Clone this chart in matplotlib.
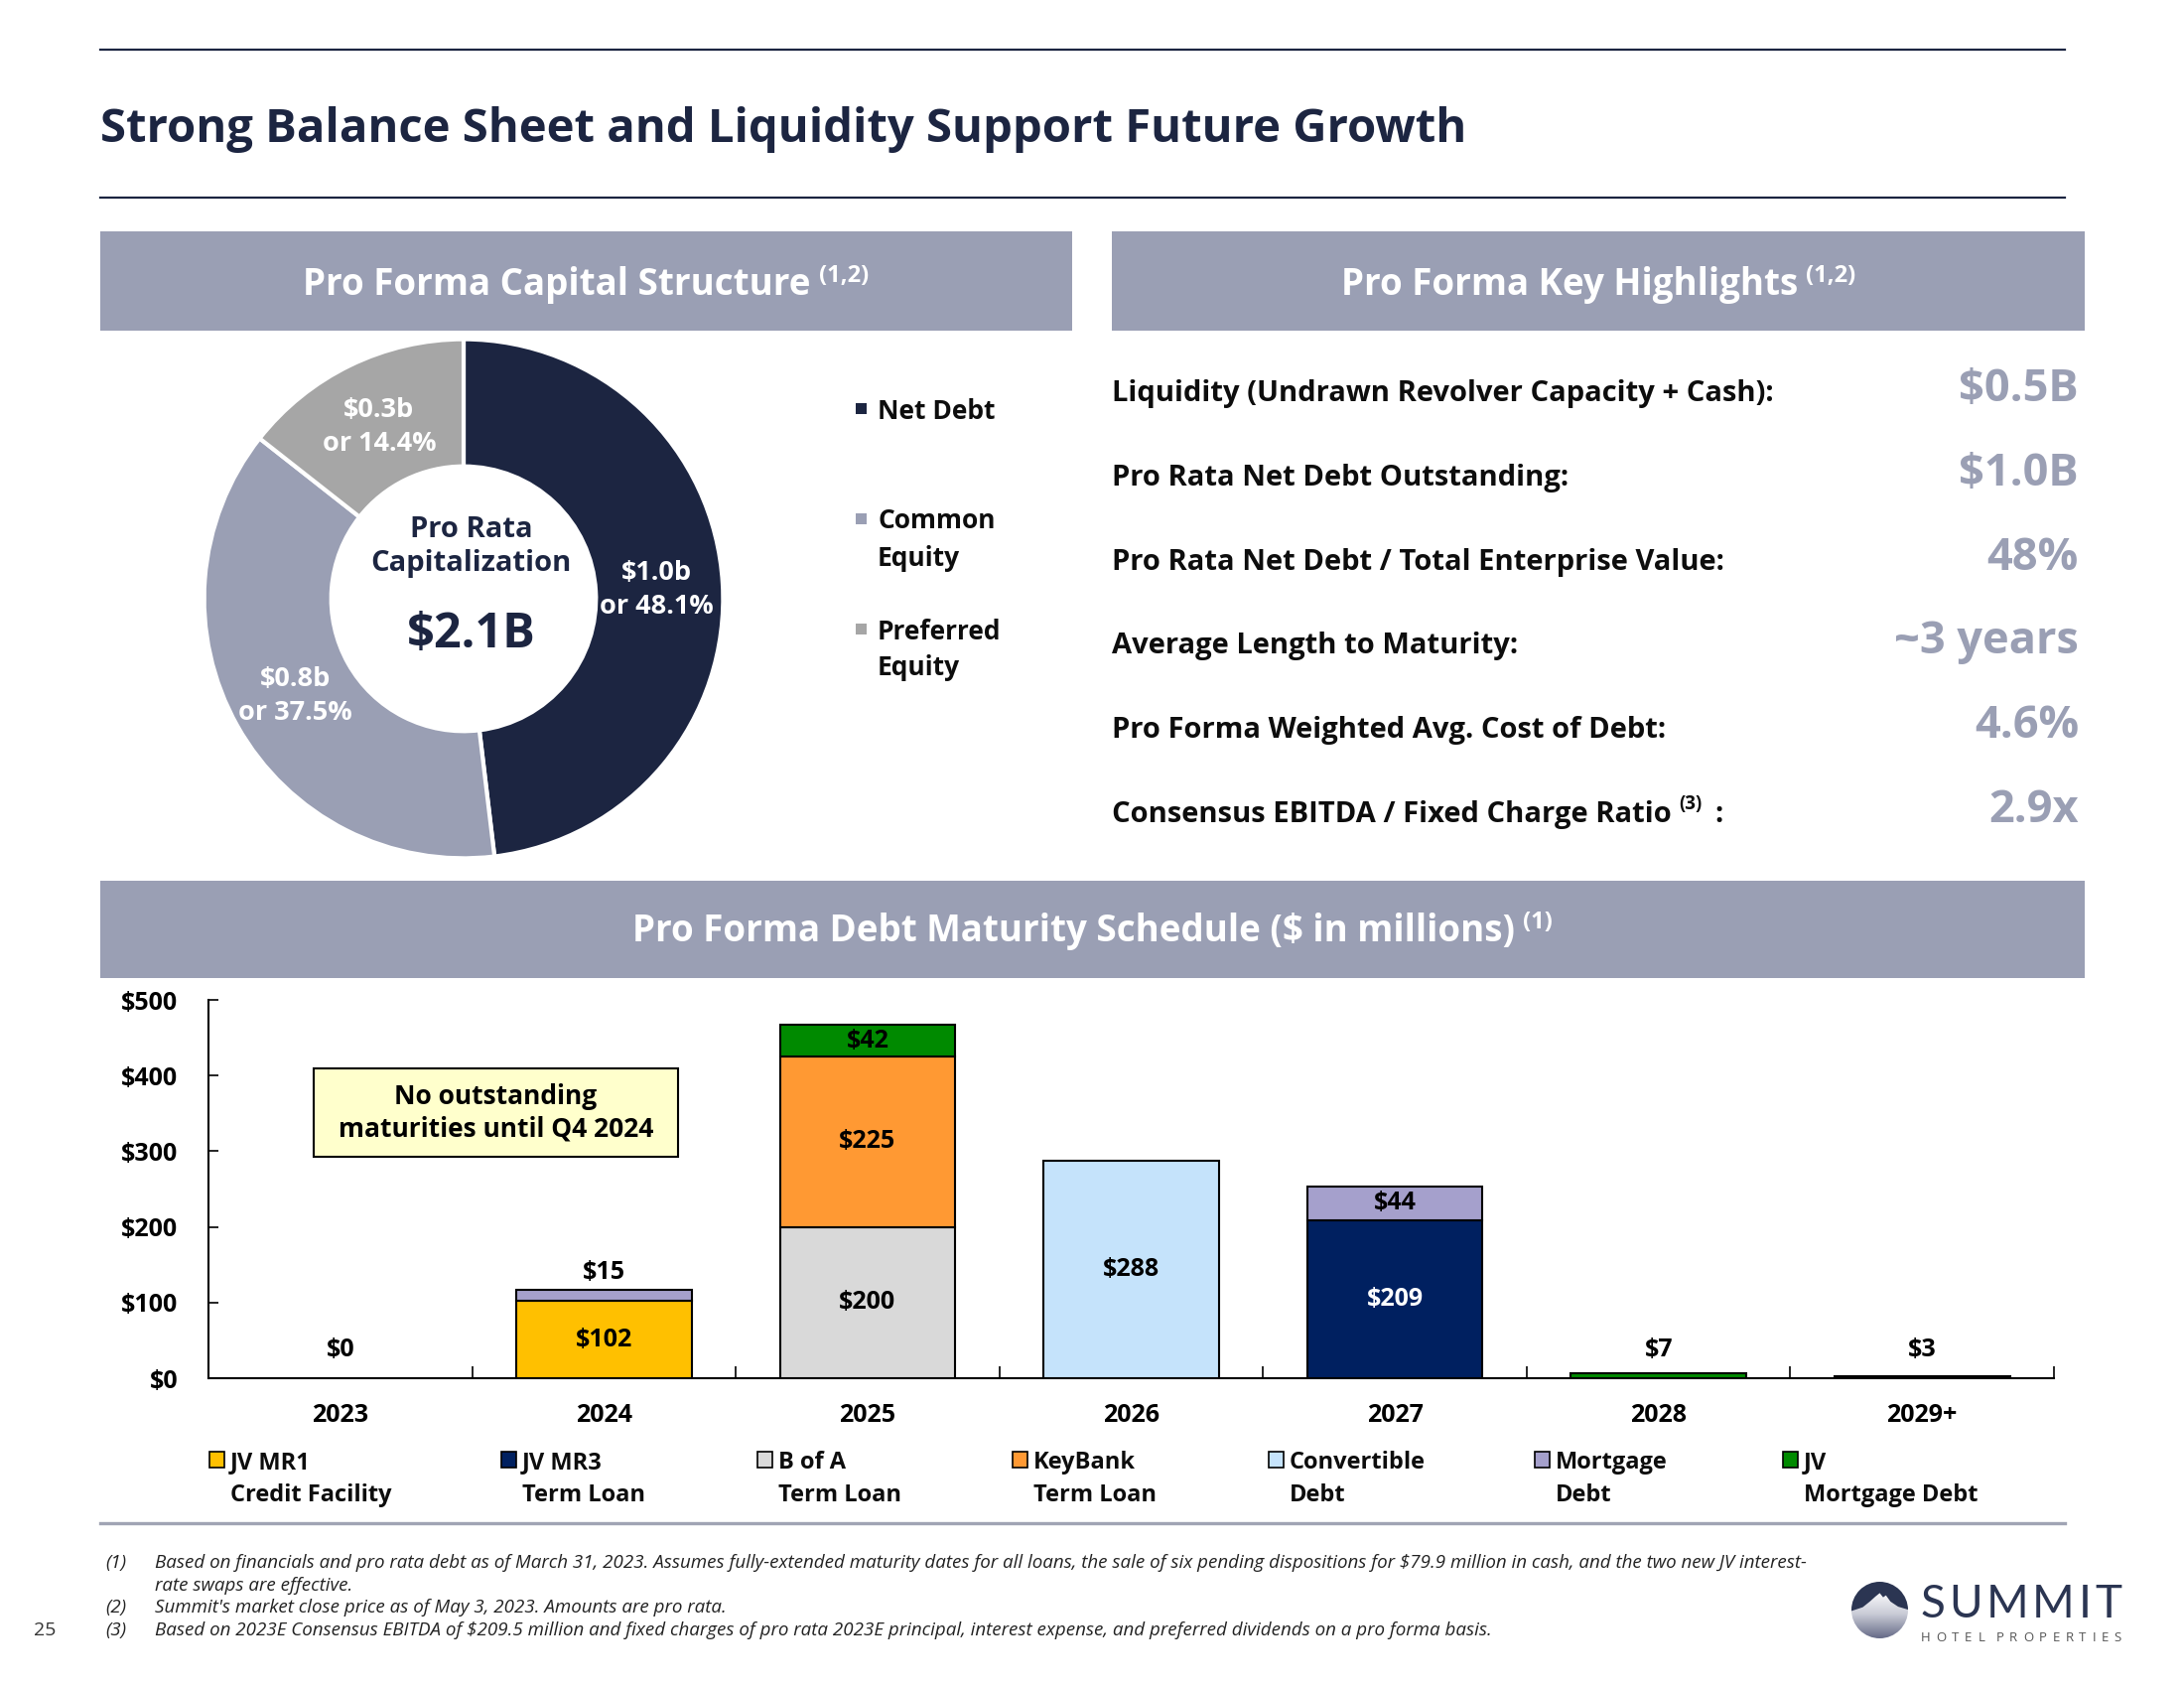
import matplotlib
matplotlib.use('Agg')
import matplotlib.pyplot as plt
from matplotlib.patches import Rectangle, Circle, Polygon
from matplotlib.lines import Line2D
from matplotlib.colors import LinearSegmentedColormap
import numpy as np

plt.rcParams['font.family'] = ['Open Sans', 'DejaVu Sans']
plt.rcParams['text.parse_math'] = False

# ---- data ----
pie_names = ['Net Debt', 'Common\nEquity', 'Preferred\nEquity']
pie_pcts = [48.1, 37.5, 14.4]
pie_amounts = ['$1.0b', '$0.8b', '$0.3b']
total_cap = '$2.1B'

highlight_names = ['Liquidity (Undrawn Revolver Capacity + Cash):',
                   'Pro Rata Net Debt Outstanding:',
                   'Pro Rata Net Debt / Total Enterprise Value:',
                   'Average Length to Maturity:',
                   'Pro Forma Weighted Avg. Cost of Debt:',
                   'Consensus EBITDA / Fixed Charge Ratio']
highlight_values = ['$0.5B', '$1.0B', '48%', '~3 years', '4.6%', '2.9x']

years = ['2023', '2024', '2025', '2026', '2027', '2028', '2029+']
jv_mr1 = [0, 102, 0, 0, 0, 0, 0]
jv_mr3 = [0, 0, 0, 0, 209, 0, 0]
bofa = [0, 0, 200, 0, 0, 0, 0]
keybank = [0, 0, 225, 0, 0, 0, 0]
convertible = [0, 0, 0, 288, 0, 0, 0]
mortgage = [0, 15, 0, 0, 44, 0, 0]
jv_mortgage = [0, 0, 42, 0, 0, 7, 3]
series = [jv_mr1, jv_mr3, bofa, keybank, convertible, mortgage, jv_mortgage]
series_names = ['JV MR1\nCredit Facility', 'JV MR3\nTerm Loan', 'B of A\nTerm Loan',
                'KeyBank\nTerm Loan', 'Convertible\nDebt', 'Mortgage\nDebt', 'JV\nMortgage Debt']

footnotes = [
    ('(1)', 'Based on financials and pro rata debt as of March 31, 2023. Assumes fully-extended maturity dates for all loans, the sale of six pending dispositions for $79.9 million in cash, and the two new JV interest-'),
    ('', 'rate swaps are effective.'),
    ('(2)', "Summit's market close price as of May 3, 2023. Amounts are pro rata."),
    ('(3)', 'Based on 2023E Consensus EBITDA of $209.5 million and fixed charges of pro rata 2023E principal, interest expense, and preferred dividends on a pro forma basis.'),
]

# ---- styles ----
NAVY = '#1C2541'
SLATE = '#9A9FB4'
GRAY = '#A6A6A6'
TXT = '#0D0D0D'
pie_colors = [NAVY, SLATE, GRAY]
bar_colors = ['#FFC000', '#002060', '#D9D9D9', '#FF9933', '#C5E3FB', '#A5A0CC', '#008A00']
legend_x = [211, 505, 763, 1020, 1278, 1546, 1796]

W, H = 2200, 1700
fig = plt.figure(figsize=(22, 17), dpi=100)
fig.patch.set_facecolor('white')
renderer = fig.canvas.get_renderer()


def fx(x):
    return x / W


def fy(y):
    return 1 - y / H


def box(x0, y0, x1, y1):
    return [x0 / W, 1 - y1 / H, (x1 - x0) / W, (y1 - y0) / H]


def hline(x0, x1, y, color, lw):
    fig.add_artist(Line2D([fx(x0), fx(x1)], [fy(y), fy(y)], color=color, lw=lw))


def band(x0, y0, x1, y1):
    fig.add_artist(Rectangle((fx(x0), fy(y1)), (x1 - x0) / W, (y1 - y0) / H,
                             transform=fig.transFigure, color=SLATE, lw=0))


def header_text(xc, yb, main, sup, size=26.5, sup_size=17):
    t1 = fig.text(0, fy(yb), main, fontsize=size, weight='bold', color='white',
                  ha='left', va='baseline')
    t2 = fig.text(0, fy(yb - 13), sup, fontsize=sup_size, weight='bold', color='white',
                  ha='left', va='baseline')
    w1 = t1.get_window_extent(renderer).width
    w2 = t2.get_window_extent(renderer).width
    gap = 8
    x0 = xc - (w1 + gap + w2) / 2
    t1.set_x(fx(x0))
    t2.set_x(fx(x0 + w1 + gap))


def spaced(x0, x1, y, s, **kw):
    # draw characters one by one, spread evenly between x0 and x1
    ts = [fig.text(0, fy(y), ch, ha='left', va='center_baseline', **kw) for ch in s]
    ws = [t.get_window_extent(renderer).width if ch != ' ' else 0 for t, ch in zip(ts, s)]
    track = (x1 - x0 - sum(ws)) / (len(s) - 1)
    pos = x0
    for t, w in zip(ts, ws):
        t.set_x(fx(pos))
        pos += w + track


# ---- title area ----
hline(101, 2080, 50, NAVY, 1.6)
fig.text(fx(101), fy(125), 'Strong Balance Sheet and Liquidity Support Future Growth',
         fontsize=34, weight='bold', color=NAVY, ha='left', va='center_baseline')
hline(101, 2080, 199, NAVY, 1.6)

band(101, 233, 1080, 333)
band(1120, 233, 2100, 333)
band(101, 887, 2100, 985)
header_text(590, 297, 'Pro Forma Capital Structure', '(1,2)')
header_text(1610, 297, 'Pro Forma Key Highlights', '(1,2)')
header_text(1100, 948, 'Pro Forma Debt Maturity Schedule ($ in millions)', '(1)')

# ---- donut ----
ax_pie = fig.add_axes(box(203, 339, 731, 867))
wedges, _ = ax_pie.pie(pie_pcts, colors=pie_colors, startangle=90, counterclock=False,
                       radius=1, wedgeprops=dict(width=0.49, edgecolor='white', linewidth=3))
ax_pie.set_xlim(-1.01, 1.01)
ax_pie.set_ylim(-1.01, 1.01)
ax_pie.set_aspect('equal')
ax_pie.axis('off')
for w, amt, pct in zip(wedges, pie_amounts, pie_pcts):
    ang = np.deg2rad((w.theta1 + w.theta2) / 2)
    r = 0.745
    ax_pie.text(r * np.cos(ang), r * np.sin(ang) - 0.01, f'{amt}\nor {pct}%', fontsize=19.5,
                weight='bold', color='white', ha='center', va='center', linespacing=1.4)
ax_pie.text(0.03, 0.20, 'Pro Rata\nCapitalization', fontsize=21, weight='bold', color=NAVY,
            ha='center', va='center', linespacing=1.25)
ax_pie.text(0.03, -0.14, total_cap, fontsize=35, weight='bold', color=NAVY,
            ha='center', va='center')

# pie legend
leg_y = [411, 522, 633]
for name, col, y in zip(pie_names, pie_colors, leg_y):
    fig.add_artist(Rectangle((fx(862), fy(y + 6)), 11 / W, 11 / H, transform=fig.transFigure,
                             color=col, lw=0))
    for k, line in enumerate(name.split('\n')):
        fig.text(fx(884), fy(y + k * 37), line, fontsize=19, weight='bold', color=TXT,
                 ha='left', va='center_baseline')

# ---- key highlights ----
for i, (name, val) in enumerate(zip(highlight_names, highlight_values)):
    yc = 393 + i * 84.8
    t = fig.text(fx(1120), fy(yc), name, fontsize=21, weight='bold', color=TXT,
                 ha='left', va='center_baseline')
    if i == len(highlight_names) - 1:
        wt = t.get_window_extent(renderer).width
        fig.text(fx(1120 + wt + 8), fy(yc - 10), '(3)', fontsize=13.5, weight='bold', color=TXT,
                 ha='left', va='center_baseline')
        fig.text(fx(1120 + wt + 44), fy(yc), ':', fontsize=21, weight='bold', color=TXT,
                 ha='left', va='center_baseline')
    fig.text(fx(2094), fy(yc - 6), val, fontsize=32.5, weight='bold', color=SLATE,
             ha='right', va='center_baseline')

# ---- maturity bars ----
ax = fig.add_axes(box(210, 1007, 2069, 1388))
x = np.arange(len(years))
bottom = np.zeros(len(years))
for vals, col in zip(series, bar_colors):
    vals = np.array(vals, dtype=float)
    m = vals > 0
    ax.bar(x[m], vals[m], bottom=bottom[m], width=0.665, color=col, edgecolor='black',
           linewidth=1.5, zorder=3)
    for xi, v, b in zip(x[m], vals[m], bottom[m]):
        if v >= 20:
            ax.text(xi, b + v / 2, f'${int(v)}', fontsize=18, weight='bold',
                    color='white' if col == '#002060' else 'black',
                    ha='center', va='center', zorder=4)
    bottom = bottom + vals
# labels above small stacks
for i in range(len(years)):
    top_small = [s[i] for s in series if 0 < s[i] < 20]
    if bottom[i] == 0:
        ax.text(x[i], 37, '$0', fontsize=18, weight='bold', ha='center', va='center')
    for v in top_small:
        ax.text(x[i], max(bottom[i] + 23, 37), f'${v}', fontsize=18, weight='bold',
                ha='center', va='center')

ax.add_patch(Rectangle((-0.1, 293), 1.38, 117, facecolor='#FFFFCC', edgecolor='black',
                       linewidth=1.5, zorder=5))
ax.text(0.59, 351, 'No outstanding\nmaturities until Q4 2024', fontsize=19, weight='bold',
        ha='center', va='center', linespacing=1.28, zorder=6)

ax.set_xlim(-0.5, 6.5)
ax.set_ylim(0, 500)
ax.set_yticks([0, 100, 200, 300, 400, 500])
ax.set_yticklabels([f'${v}' for v in [0, 100, 200, 300, 400, 500]])
ax.set_xticks(np.arange(0.5, 7, 1))
ax.set_xticklabels([])
ax.set_xticks(x, minor=True)
ax.set_xticklabels(years, minor=True)
ax.tick_params(axis='x', which='major', direction='in', length=9, width=1.2)
ax.tick_params(axis='x', which='minor', length=0, pad=18)
ax.tick_params(axis='y', direction='in', length=7, width=1.2, pad=22)
for lab in ax.get_xticklabels(minor=True) + ax.get_yticklabels():
    lab.set_fontsize(18)
    lab.set_fontweight('bold')
for s in ['top', 'right']:
    ax.spines[s].set_visible(False)
for s in ['left', 'bottom']:
    ax.spines[s].set_linewidth(1.5)
ax.set_facecolor('none')

# bar legend
for name, col, lx in zip(series_names, bar_colors, legend_x):
    fig.add_artist(Rectangle((fx(lx), fy(1478)), 15 / W, 16 / H, transform=fig.transFigure,
                             facecolor=col, edgecolor='black', lw=1.2))
    for k, line in enumerate(name.split('\n')):
        fig.text(fx(lx + 21), fy(1470 + k * 33), line, fontsize=17, weight='bold', color=TXT,
                 ha='left', va='center_baseline')

hline(101, 2080, 1534, '#A0A4B4', 2.4)

# ---- footnotes ----
for k, (num, line) in enumerate(footnotes):
    yc = 1572 + k * 22.6
    if num:
        fig.text(fx(106), fy(yc), num, fontsize=13.5, style='italic', color='#222222',
                 ha='left', va='center_baseline')
    fig.text(fx(156), fy(yc), line, fontsize=13.5, style='italic', color='#222222',
             ha='left', va='center_baseline')
fig.text(fx(45), fy(1640), '25', fontsize=14, color='#333333', ha='center',
         va='center_baseline')

# ---- logo ----
ax_logo = fig.add_axes(box(1865, 1593, 1922, 1650))
ax_logo.set_xlim(-1, 1)
ax_logo.set_ylim(-1, 1)
ax_logo.axis('off')
grad = np.linspace(0, 1, 100).reshape(-1, 1)
cmap = LinearSegmentedColormap.from_list('mtn', ['#FFFFFF', '#C9CBD6', '#666B88'])
im = ax_logo.imshow(grad, extent=[-1, 1, -1, 0.7], cmap=cmap, aspect='auto', origin='upper')
im.set_clip_path(Circle((0, 0), 1, transform=ax_logo.transData))
sky = Polygon([(-1.05, -0.05), (-0.6, 0.1), (-0.35, 0.3), (-0.15, 0.48), (0, 0.6),
               (0.12, 0.45), (0.22, 0.52), (0.38, 0.3), (0.65, 0.12), (1.05, 0.0),
               (1.05, 1.05), (-1.05, 1.05)], closed=True, facecolor='#2B3552', lw=0)
ax_logo.add_patch(sky)
sky.set_clip_path(Circle((0, 0), 1, transform=ax_logo.transData))

spaced(1935, 2137, 1612, 'SUMMIT', fontsize=33, color='#2B3552', family=['Lato', 'DejaVu Sans'])
spaced(1935, 2137, 1648, 'HOTEL PROPERTIES', fontsize=9.5, color='#555555')

fig.savefig('out.png', dpi=100, facecolor='white')
